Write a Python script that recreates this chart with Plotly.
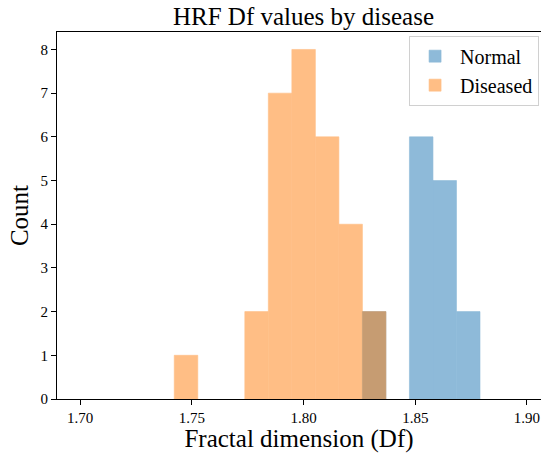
import numpy as np
import plotly.graph_objects as go

# Histogram data (shared bin edges)
bin_start = 1.7421
bin_width = 0.01053
n_bins = 13
normal_counts = [0, 0, 0, 0, 0, 0, 0, 0, 2, 0, 6, 5, 2]
diseased_counts = [1, 0, 0, 2, 7, 8, 6, 4, 2, 0, 0, 0, 0]
x_ticks = [1.70, 1.75, 1.80, 1.85, 1.90]
y_ticks = [0, 1, 2, 3, 4, 5, 6, 7, 8]

centers = [bin_start + (i + 0.5) * bin_width for i in range(n_bins)]


def nz(vals):
    # empty bins are not drawn
    return [v if v else None for v in vals]


FONT = "Liberation Serif, Times New Roman, serif"

fig = go.Figure()
fig.add_trace(go.Bar(x=centers, y=nz(normal_counts), width=bin_width, name="Normal",
                     marker=dict(color="#1f77b4", line=dict(width=0.6, color="#1f77b4")),
                     opacity=0.5))
fig.add_trace(go.Bar(x=centers, y=nz(diseased_counts), width=bin_width, name="Diseased",
                     marker=dict(color="#ff7f0e", line=dict(width=0.6, color="#ff7f0e")),
                     opacity=0.5))

fig.update_layout(
    width=541, height=453,
    margin=dict(l=57, r=0, t=32, b=54),
    barmode="overlay",
    plot_bgcolor="white", paper_bgcolor="white",
    font=dict(family=FONT, color="black"),
    title=dict(text="HRF Df values by disease", font=dict(size=25, family=FONT),
               x=(303.5 - 57) / 484, xref="paper", xanchor="center",
               y=1 - 16 / 453, yref="container", yanchor="middle"),
    legend=dict(x=0.996, xanchor="right", y=0.99, yanchor="top",
                bgcolor="white", bordercolor="#d0d0d0", borderwidth=1,
                font=dict(size=20, family=FONT), traceorder="normal",
                tracegroupgap=0, itemwidth=40),
    xaxis=dict(range=[1.6896, 1.9063], tickvals=x_ticks,
               ticktext=[f"{v:.2f}" for v in x_ticks],
               showline=True, linecolor="black", linewidth=1, mirror=True,
               ticks="outside", ticklen=5, tickcolor="black", showgrid=False, zeroline=False,
               tickfont=dict(size=15, family=FONT),
               title=dict(text="Fractal dimension (Df)", font=dict(size=25, family=FONT), standoff=3)),
    yaxis=dict(range=[0, 8.4], tickvals=y_ticks,
               showline=True, linecolor="black", linewidth=1, mirror=False,
               ticks="outside", ticklen=5, tickcolor="black", showgrid=False, zeroline=False,
               tickfont=dict(size=15, family=FONT),
               title=dict(text="Count", font=dict(size=25, family=FONT), standoff=4)),
)

fig.write_html("out.html")
